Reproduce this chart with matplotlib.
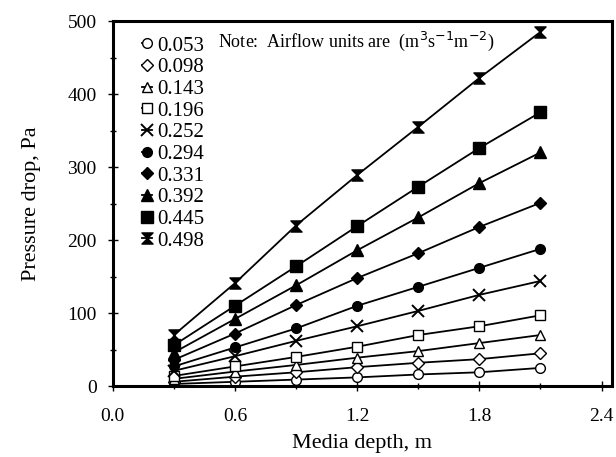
import numpy as np
import matplotlib.pyplot as plt
from matplotlib.path import Path
from matplotlib.ticker import MultipleLocator

plt.rcParams['font.family'] = ['Liberation Serif', 'DejaVu Serif']

# profundidade do meio (m)
depth = [0.3, 0.6, 0.9, 1.2, 1.5, 1.8, 2.1]

# vazões de ar (m3 s-1 m-2) e perda de carga (Pa)
airflow = ['0.053', '0.098', '0.143', '0.196', '0.252',
           '0.294', '0.331', '0.392', '0.445', '0.498']
dp_0053 = [3, 6, 9, 12, 16, 19, 25]
dp_0098 = [6, 13, 19, 26, 32, 37, 45]
dp_0143 = [10, 20, 29, 39, 48, 59, 70]
dp_0196 = [14, 27, 40, 54, 70, 82, 97]
dp_0252 = [21, 41, 62, 82, 103, 125, 144]
dp_0294 = [27, 53, 79, 110, 136, 162, 188]
dp_0331 = [36, 72, 111, 148, 182, 218, 251]
dp_0392 = [46, 92, 138, 186, 231, 278, 320]
dp_0445 = [56, 110, 164, 219, 273, 326, 375]
dp_0498 = [70, 141, 220, 289, 355, 422, 485]

series = [dp_0053, dp_0098, dp_0143, dp_0196, dp_0252,
          dp_0294, dp_0331, dp_0392, dp_0445, dp_0498]

# marcador "ampulheta" para a última série
hourglass = Path([(-1, 1), (1, 1), (-1, -1), (1, -1), (-1, 1)],
                 [Path.MOVETO, Path.LINETO, Path.LINETO, Path.LINETO, Path.CLOSEPOLY])

estilos = [
    dict(marker='o', mfc='white', ms=7),
    dict(marker='D', mfc='white', ms=6),
    dict(marker='^', mfc='white', ms=7),
    dict(marker='s', mfc='white', ms=7),
    dict(marker='x', ms=8, mew=1.4),
    dict(marker='o', mfc='black', ms=7),
    dict(marker='D', mfc='black', ms=6),
    dict(marker='^', mfc='black', ms=8),
    dict(marker='s', mfc='black', ms=8),
    dict(marker=hourglass, mfc='black', ms=8),
]

fig = plt.figure(figsize=(6.16, 4.57), dpi=100)
ax = fig.add_axes([0.183, 0.155, 0.81, 0.799])

for rotulo, valores, est in zip(airflow, series, estilos):
    ax.plot(depth, valores, color='black', lw=1.3, mec='black', label=rotulo, **est)

ax.set_xlim(0, 2.45)
ax.set_ylim(0, 500)
ax.xaxis.set_major_locator(MultipleLocator(0.6))
ax.xaxis.set_minor_locator(MultipleLocator(0.3))
ax.yaxis.set_major_locator(MultipleLocator(100))
ax.yaxis.set_minor_locator(MultipleLocator(50))
ax.xaxis.set_major_formatter(plt.FuncFormatter(lambda v, p: f'{v:.1f}'))

for s in ax.spines.values():
    s.set_linewidth(2.2)
ax.tick_params(which='both', direction='inout', width=1.0, labelsize=14)
ax.tick_params(which='major', length=7)
ax.tick_params(which='minor', length=4)
ax.tick_params(axis='x', pad=12)
ax.tick_params(axis='y', pad=8)

ax.set_xlabel('Media depth, m', fontsize=16, labelpad=7)
ax.set_ylabel('Pressure drop, Pa', fontsize=16, labelpad=19)

ax.legend(loc='upper left', bbox_to_anchor=(0.033, 0.993), frameon=False,
          fontsize=15, handlelength=0.5, handletextpad=0.25,
          labelspacing=0.1, borderaxespad=0.2, numpoints=1)

ax.text(0.21, 0.943, 'Note:  Airflow units are  (m$^3$s$^{-1}$m$^{-2}$)',
        transform=ax.transAxes, fontsize=13, va='center', ha='left')

plt.savefig('out.png', dpi=100)
plt.close()
